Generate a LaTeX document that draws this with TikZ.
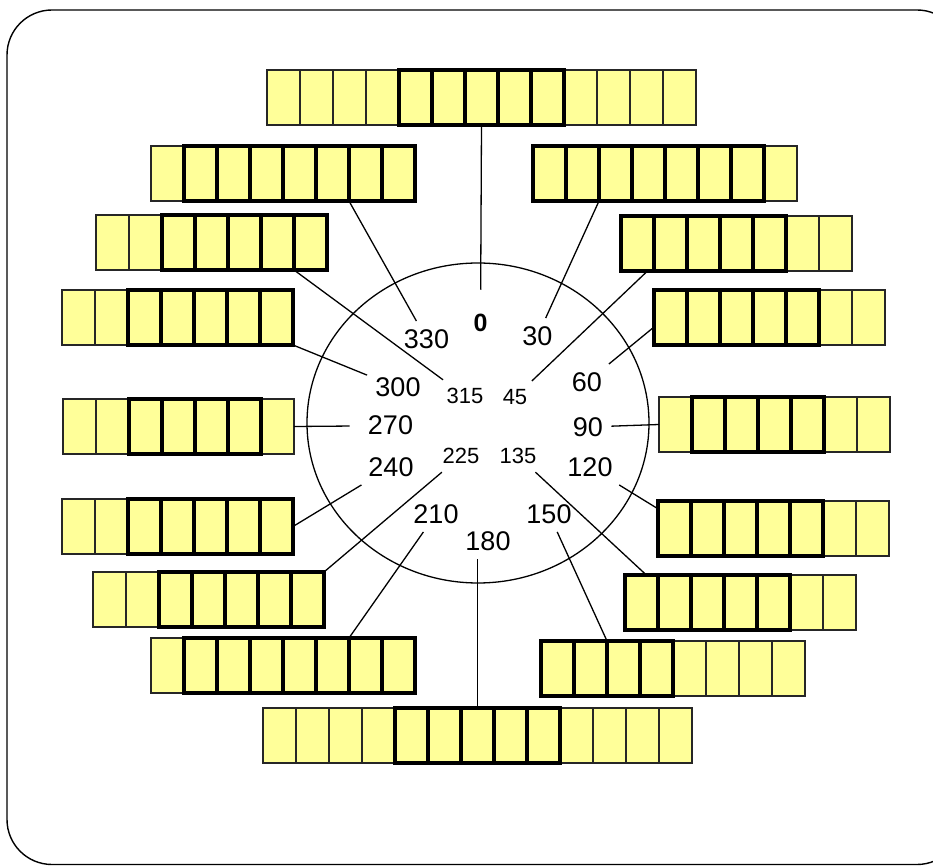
\documentclass[tikz,border=0pt]{standalone}
\usepackage{fontspec}
\setmainfont{Liberation Sans}
\usepackage{xcolor}
\usepackage{tikz}
\usetikzlibrary{positioning}
\definecolor{cellfill}{HTML}{FFFF99}

\begin{document}
\begin{tikzpicture}[
  x=0.5pt, y=-0.5pt,
  cell/.style={draw=black!85, fill=cellfill, line width=0.65pt, minimum width=16.5pt, minimum height=27.5pt, inner sep=0pt, outer sep=0pt},
  hotcell/.style={cell, draw=black, line width=2.4pt},
  tag/.style={font=\fontsize{13.5}{16}\selectfont, inner sep=4pt},
  smalltag/.style={tag, font=\fontsize{11}{13}\selectfont},
  boldtag/.style={tag, font=\fontsize{12.5}{15}\selectfont\bfseries},
  link/.style={line width=0.65pt},
]
\path[use as bounding box] (0,0) rectangle (933,866);
\clip (0,0) rectangle (933,866);

% Frame
\draw[line width=0.7pt, rounded corners=22.5pt] (7,10) rectangle (962,864.5);

% Dial
\draw[link] (478,423) ellipse [x radius=85.5pt, y radius=80pt];

% Cell rows: name/left/top/cells/first thick/last thick
\foreach \r/\lx/\ty/\n/\hf/\hl in {
    0/267/70/13/5/9, 330/151/146/8/2/8, 30/533/146/8/1/7,
    315/96/215/7/3/7, 45/621/216/7/1/5, 300/62/290/7/3/7,
    60/654/290/7/1/5, 270/63/399/7/3/6, 90/659/397/7/2/5,
    240/62/499/7/3/7, 120/658/501/7/1/5, 225/93/572/7/3/7,
    135/625/575/7/1/5, 210/151/638/8/2/8, 150/541/641/8/1/4,
    180/263/708/13/5/9} {
  \foreach \i in {1,...,\n} {
    \ifnum\i<\hf\relax \node[cell] (a\r-\i) at ({\lx+33*(\i-0.5)},{\ty+27.5}) {};\fi
    \ifnum\i>\hl\relax \node[cell] (a\r-\i) at ({\lx+33*(\i-0.5)},{\ty+27.5}) {};\fi
  }
  \foreach \i in {\hf,...,\hl}
    \node[hotcell] (a\r-\i) at ({\lx+33*(\i-0.5)},{\ty+27.5}) {};
}

% Labels
\node[boldtag] (l0) at (480.5,323) {0};
\node[tag] (l330) at (426.5,339) {330};
\node[tag] (l30) at (537.5,336) {30};
\node[tag] (l300) at (398,387.7) {300};
\node[smalltag] (l315) at (465,396) {315};
\node[smalltag] (l45) at (515,397) {45};
\node[tag] (l60) at (587,382) {60};
\node[tag] (l270) at (390.5,425.7) {270};
\node[tag] (l90) at (588,427) {90};
\node[tag] (l240) at (391,467) {240};
\node[smalltag] (l225) at (461,456) {225};
\node[smalltag] (l135) at (518,456) {135};
\node[tag] (l120) at (590,467) {120};
\node[tag] (l210) at (436,514) {210};
\node[tag] (l150) at (549,514) {150};
\node[tag] (l180) at (488,541) {180};

% Connectors
\draw[link, shorten >=8pt] (a0-7.south) -- (l0);
\draw[link] (a330-6.south east) -- (l330);
\draw[link] (a30-2.south east) -- (l30);
\draw[link] (a315-6.south east) -- (l315);
\draw[link] (a45-1.-70) -- (l45);
\draw[link] (a300-7.south east) -- (l300);
\draw[link] (a60-1.-150) -- (l60);
\draw[link, shorten >=5pt] (a270-7.east) -- (l270);
\draw[link] (a90-1.west) -- (l90);
\draw[link] (a240-7.east) -- (l240);
\draw[link] (a225-7.north east) -- (l225);
\draw[link] (a135-1.80) -- (l135);
\draw[link] (a120-1.130) -- (l120);
\draw[link] (a210-7.north west) -- (l210);
\draw[link] (a150-3.north west) -- (l150);
\draw[link] (a180-7.north) -- (a180-7.north |- l180.south);
\end{tikzpicture}
\end{document}
